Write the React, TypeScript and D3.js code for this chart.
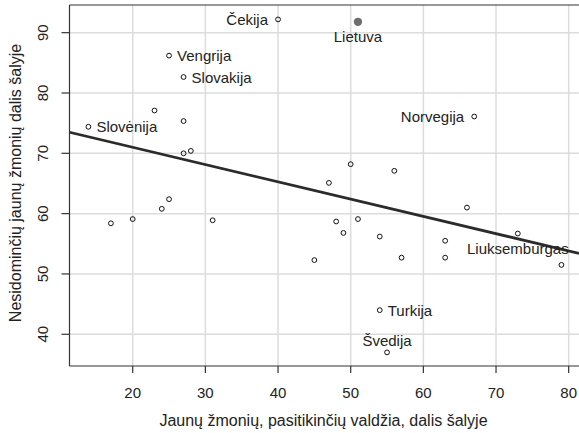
import React from "react";
import * as d3 from "d3";

const trustX = [40,51,25,27,23,13.9,27,27,28,24,25,20,17,31,67,50,56,47,66,48,51,49,54,63,45,57,63,79,54,55,73];
const disinterestY = [92.2,91.8,86.2,82.65,77.1,74.4,75.35,70.0,70.4,60.8,62.4,59.1,58.4,58.9,76.1,68.2,67.1,65.1,61.0,58.7,59.1,56.8,56.2,55.5,52.3,52.7,52.7,51.5,44.0,37.0,56.7];
const pointNames = ["Čekija","Lietuva","Vengrija","Slovakija","","Slovėnija","","","","","","","","","Norvegija","","","","","","","","","","","","","","Turkija","Švedija","Liuksemburgas"];
const labelPos = ["left","below","right","right","","right","","","","","","","","","left","","","","","","","","","","","","","","right","above","below"];
const highlight = "Lietuva";
const xTicks = [20,30,40,50,60,70,80];
const yTicks = [40,50,60,70,80,90];
const lineIntercept = 76.73;
const lineSlope = -0.2864;
const xTitle = "Jaunų žmonių, pasitikinčių valdžia, dalis šalyje";
const yTitle = "Nesidominčių jaunų žmonių dalis šalyje";

export default function App() {
  const W = 579, H = 433;
  const left = 69.5, right = 579, top = 5, bottom = 366;
  const x = d3.scaleLinear().domain([11.3, 81.42]).range([left, right]);
  const y = d3.scaleLinear().domain([34.74, 94.59]).range([bottom, top]);
  const font = "'Liberation Sans', Arial, sans-serif";
  const fs = 15;
  const fsTitle = 16;
  const line = d3.line<number>().x(d => x(d)).y(d => y(lineIntercept + lineSlope * d));
  const xs = x.domain();
  return (
    <svg width={W} height={H} style={{ position: "absolute", left: 0, top: 0, background: "#fff" }} fontFamily={font}>
      <defs>
        <clipPath id="plot"><rect x={left} y={top} width={right - left} height={bottom - top} /></clipPath>
      </defs>
      <rect x={0} y={0} width={W} height={H} fill="#fff" />
      <g stroke="#dcdcdc" strokeWidth={1.5}>
        {xTicks.map(t => <line key={"gx" + t} x1={x(t)} x2={x(t)} y1={top} y2={bottom} />)}
        {yTicks.map(t => <line key={"gy" + t} x1={left} x2={right} y1={y(t)} y2={y(t)} />)}
      </g>
      <path d={line(xs) || ""} stroke="#2b2b2b" strokeWidth={2.8} fill="none" clipPath="url(#plot)" />
      {trustX.map((v, i) => {
        const isH = pointNames[i] === highlight;
        return isH
          ? <circle key={i} cx={x(v)} cy={y(disinterestY[i])} r={4.2} fill="#6e6e6e" />
          : <circle key={i} cx={x(v)} cy={y(disinterestY[i])} r={2.4} fill="none" stroke="#111" strokeWidth={1} />;
      })}
      {pointNames.map((n, i) => {
        if (!n) return null;
        const px = x(trustX[i]), py = y(disinterestY[i]);
        const pos = labelPos[i];
        let tx = px, ty = py, anchor: any = "middle";
        if (pos === "left") { tx = px - 10; anchor = "end"; }
        else if (pos === "right") { tx = px + 8; anchor = "start"; }
        else if (pos === "below") { ty = py + 15; }
        else if (pos === "above") { ty = py - 12; }
        return <text key={"l" + i} x={tx} y={ty} textAnchor={anchor} dominantBaseline="central" fontSize={fs} fill="#222">{n}</text>;
      })}
      <g stroke="#333" strokeWidth={1.2}>
        <line x1={left} x2={left} y1={top} y2={bottom} />
        <line x1={left} x2={right} y1={bottom} y2={bottom} />
        <line x1={left} x2={right} y1={top} y2={top} />
        {xTicks.map(t => <line key={"tx" + t} x1={x(t)} x2={x(t)} y1={bottom} y2={bottom + 7} />)}
        {yTicks.map(t => <line key={"ty" + t} x1={left - 8} x2={left} y1={y(t)} y2={y(t)} />)}
      </g>
      {xTicks.map(t => (
        <text key={"xl" + t} x={x(t)} y={392} textAnchor="middle" dominantBaseline="central" fontSize={fs} fill="#222">{t}</text>
      ))}
      {yTicks.map(t => (
        <text key={"yl" + t} transform={`translate(42,${y(t)}) rotate(-90)`} textAnchor="middle" dominantBaseline="central" fontSize={fs} fill="#222">{t}</text>
      ))}
      <text x={323.5} y={420} textAnchor="middle" dominantBaseline="central" fontSize={fsTitle} fill="#222">{xTitle}</text>
      <text transform={`translate(15.5,183) rotate(-90)`} textAnchor="middle" dominantBaseline="central" fontSize={fsTitle} fill="#222">{yTitle}</text>
    </svg>
  );
}
